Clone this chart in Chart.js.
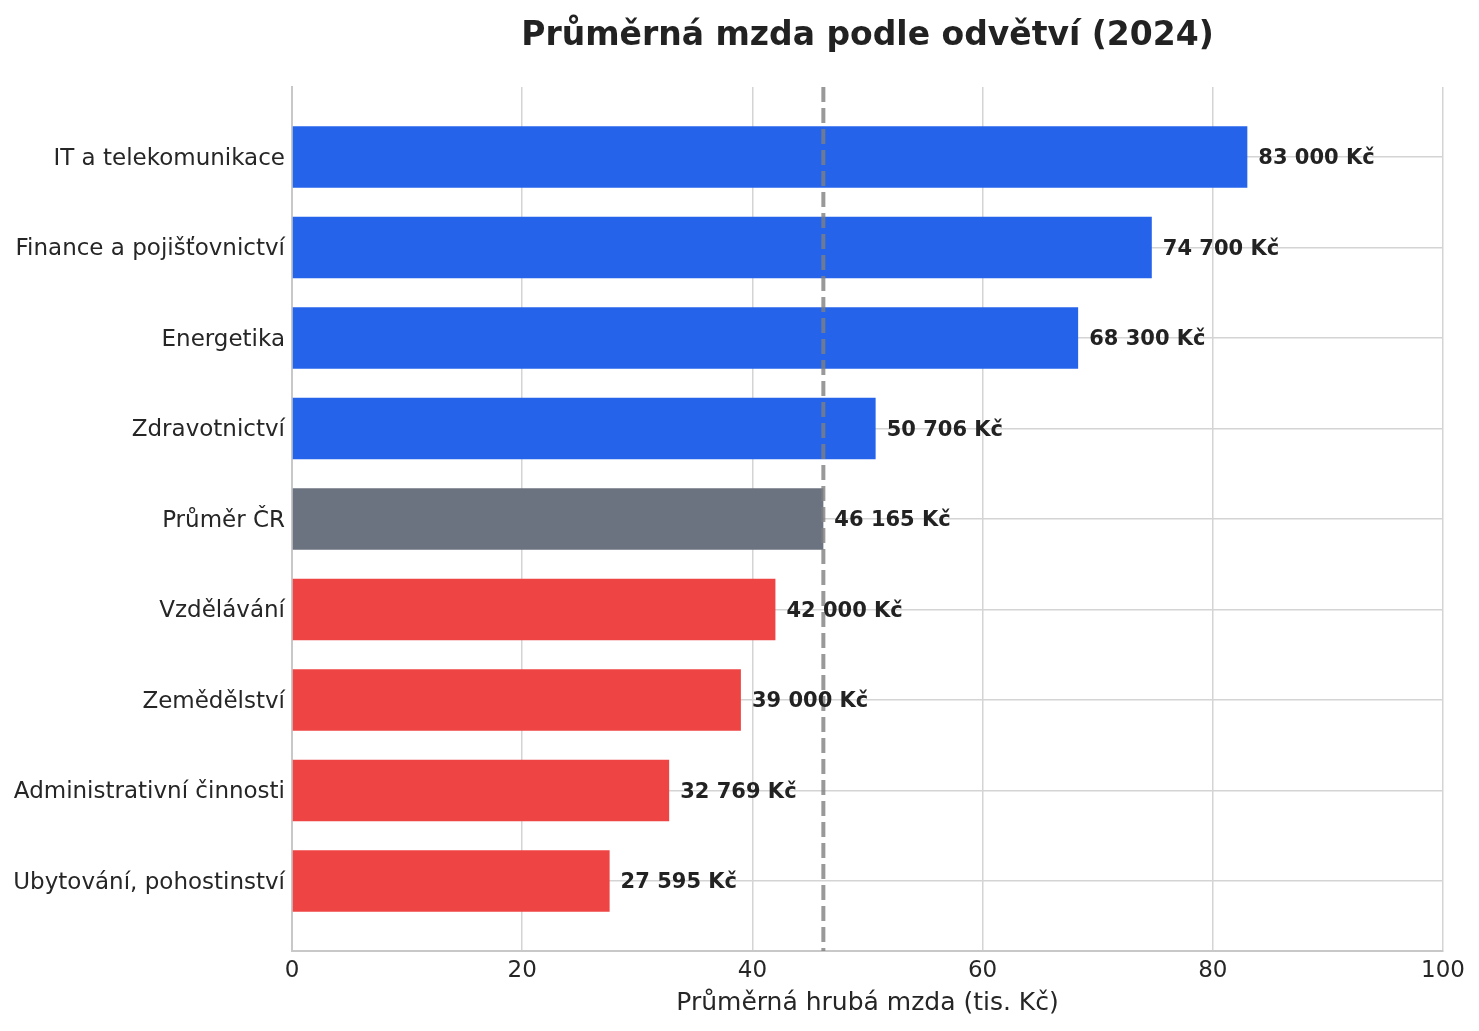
<!DOCTYPE html>
<html lang="cs">
<head>
<meta charset="utf-8">
<title>Průměrná mzda podle odvětví (2024)</title>
<script src="https://cdn.jsdelivr.net/npm/chart.js@4.4.1/dist/chart.umd.min.js"></script>
<style>
    html, body { margin: 0; padding: 0; background: #ffffff; }
    #wrap { width: 1479px; height: 1031px; position: relative; }
</style>
</head>
<body>
<div id="wrap"><canvas id="wageChart"></canvas></div>
<script>
const categories = [
    'IT a telekomunikace',
    'Finance a pojišťovnictví',
    'Energetika',
    'Zdravotnictví',
    'Průměr ČR',
    'Vzdělávání',
    'Zemědělství',
    'Administrativní činnosti',
    'Ubytování, pohostinství'
];
const wages = [83000, 74700, 68300, 50706, 46165, 42000, 39000, 32769, 27595];
const averageWage = 46165;
const xTicks = [0, 20, 40, 60, 80, 100];

const FONT = 'DejaVu Sans';
const TEXT_COLOR = '#262626';

function barColor(value) {
    if (value === averageWage) return '#6b7280';   // the national average itself
    return value > averageWage ? '#2563eb' : '#ef4444';
}

function formatKc(value) {
    // thousands separated by a space, Czech style
    return value.toString().replace(/\B(?=(\d{3})+(?!\d))/g, ' ') + ' Kč';
}

// dashed vertical line at the national average
const averageLinePlugin = {
    id: 'averageLine',
    afterDatasetsDraw(chart) {
        const { ctx, chartArea, scales } = chart;
        const x = scales.x.getPixelForValue(averageWage / 1000);
        ctx.save();
        ctx.strokeStyle = 'rgba(128, 128, 128, 0.8)';
        ctx.lineWidth = 4;
        ctx.setLineDash([15, 6]);
        ctx.beginPath();
        ctx.moveTo(x, chartArea.top);
        ctx.lineTo(x, chartArea.bottom);
        ctx.stroke();
        ctx.restore();
    }
};

// value labels at the end of each bar
const valueLabelPlugin = {
    id: 'valueLabels',
    afterDraw(chart) {
        const { ctx } = chart;
        const meta = chart.getDatasetMeta(0);
        ctx.save();
        ctx.font = 'bold 21px "' + FONT + '"';
        ctx.fillStyle = '#222222';
        ctx.textAlign = 'left';
        ctx.textBaseline = 'middle';
        meta.data.forEach((bar, i) => {
            ctx.fillText(formatKc(wages[i]), bar.x + 11, bar.y + 2);
        });
        ctx.restore();
    }
};

const chartData = {
    datasets: [{
        label: 'Průměrná hrubá mzda',
        data: wages.map((w, i) => ({ x: w / 1000, y: i })),
        backgroundColor: wages.map(barColor),
        borderWidth: 0,
        categoryPercentage: 1,
        barPercentage: 0.68
    }]
};

const chartOptions = {
    indexAxis: 'y',
    responsive: true,
    maintainAspectRatio: false,
    devicePixelRatio: 1,
    animation: false,
    layout: { padding: { top: 0, right: 36, bottom: 0, left: 0 } },
    plugins: {
        legend: { display: false },
        tooltip: { enabled: false },
        title: {
            display: true,
            text: 'Průměrná mzda podle odvětví (2024)',
            fullSize: false,
            color: '#222222',
            font: { family: FONT, size: 33, weight: 'bold', lineHeight: 1.2 },
            padding: { top: 17, bottom: 30.4 }
        }
    },
    scales: {
        x: {
            type: 'linear',
            position: 'bottom',
            min: 0,
            max: 100,
            afterBuildTicks: scale => { scale.ticks = xTicks.map(v => ({ value: v })); },
            afterFit: scale => { scale.height = 80; },
            ticks: { color: TEXT_COLOR, font: { family: FONT, size: 23 }, padding: 6 },
            grid: { color: '#d4d4d4', lineWidth: 1.5, drawTicks: false },
            border: { display: true, color: '#c8c8c8', width: 2 },
            title: {
                display: true,
                text: 'Průměrná hrubá mzda (tis. Kč)',
                color: TEXT_COLOR,
                font: { family: FONT, size: 25, lineHeight: 1.2 },
                padding: { top: 0, bottom: 13 }
            }
        },
        y: {
            type: 'linear',
            position: 'left',
            reverse: true,
            offset: false,
            min: -0.773,
            max: categories.length - 1 + 0.773,
            afterBuildTicks: scale => { scale.ticks = categories.map((_, i) => ({ value: i })); },
            afterFit: scale => { scale.width = 292; },
            ticks: {
                color: TEXT_COLOR,
                font: { family: FONT, size: 23 },
                padding: 7,
                labelOffset: 2,
                callback: value => categories[value]
            },
            grid: { color: '#d4d4d4', lineWidth: 1.5, drawTicks: false, offset: false },
            border: { display: true, color: '#c8c8c8', width: 2 }
        }
    }
};

new Chart(document.getElementById('wageChart').getContext('2d'), {
    type: 'bar',
    data: chartData,
    options: chartOptions,
    plugins: [averageLinePlugin, valueLabelPlugin]
});
</script>
</body>
</html>
